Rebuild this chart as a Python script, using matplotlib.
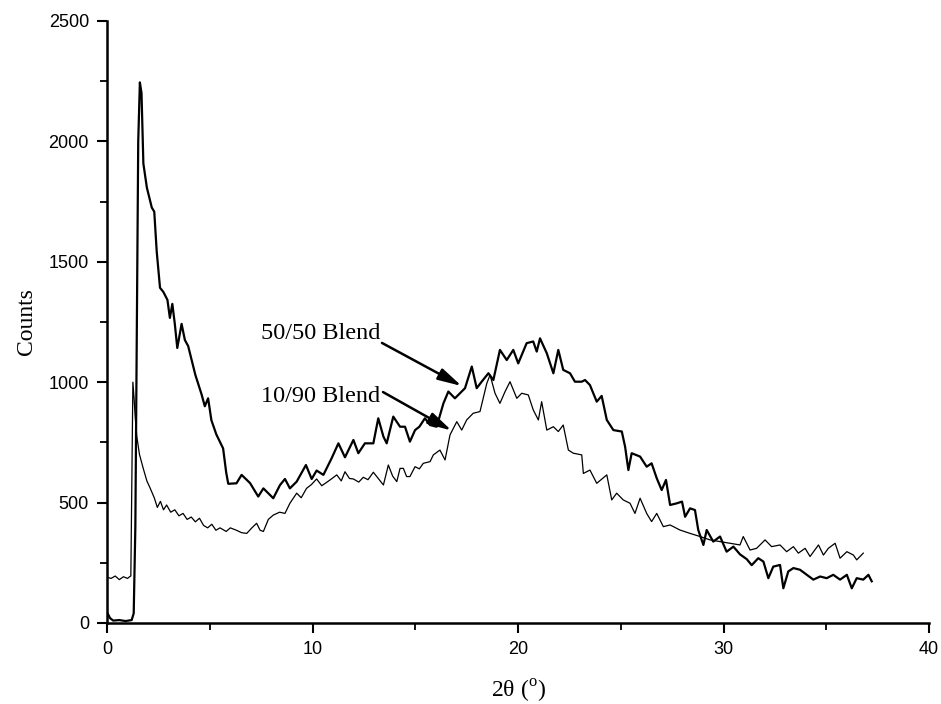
import numpy as np
import matplotlib
matplotlib.use("Agg")
import matplotlib.pyplot as plt
from matplotlib.ticker import MultipleLocator

# 50/50 blend (thick trace)
x_5050 = [0, 0.15, 0.3, 0.6, 0.9, 1.2, 1.3, 1.38, 1.45, 1.52, 1.6, 1.68, 1.77, 1.94,
          2.18, 2.3, 2.42, 2.58, 2.74, 2.94, 3.06, 3.18, 3.3, 3.42, 3.63, 3.79, 3.95,
          4.3, 4.6, 4.76, 4.92, 5.08, 5.32, 5.65, 5.8, 5.9, 6.3, 6.55, 6.96, 7.36,
          7.61, 8.09, 8.42, 8.66, 8.9, 9.23, 9.68, 9.96, 10.2, 10.53, 10.93, 11.26,
          11.58, 11.99, 12.23, 12.55, 12.96, 13.2, 13.45, 13.61, 13.93, 14.26, 14.5,
          14.74, 14.99, 15.2, 15.47, 15.72, 16.04, 16.37, 16.61, 16.93, 17.42, 17.75,
          17.99, 18.23, 18.56, 18.8, 19.12, 19.45, 19.77, 20.01, 20.42, 20.74, 20.91,
          21.07, 21.4, 21.72, 21.96, 22.2, 22.53, 22.77, 23.1, 23.26, 23.5, 23.83,
          24.07, 24.32, 24.64, 25.05, 25.21, 25.37, 25.53, 25.94, 26.26, 26.5, 26.75,
          26.99, 27.2, 27.4, 27.73, 27.98, 28.13, 28.37, 28.61, 28.77, 29.02, 29.18,
          29.5, 29.83, 30.15, 30.48, 30.8, 31.13, 31.37, 31.69, 31.94, 32.18, 32.42,
          32.75, 32.91, 33.15, 33.4, 33.72, 34.05, 34.37, 34.7, 35.02, 35.34, 35.67,
          36.0, 36.24, 36.48, 36.8, 37.05, 37.21]
y_5050 = [45, 20, 10, 12, 8, 12, 40, 400, 1200, 2000, 2245, 2200, 1908, 1808,
          1725, 1708, 1542, 1392, 1375, 1342, 1267, 1325, 1242, 1142, 1242, 1175, 1150,
          1030, 950, 900, 933, 842, 783, 725, 625, 578, 580, 615, 581, 525,
          559, 518, 573, 598, 559, 587, 656, 598, 633, 615, 684, 746,
          688, 760, 705, 746, 746, 850, 774, 746, 857, 815, 815,
          753, 801, 815, 850, 822, 815, 912, 961, 933, 975, 1065,
          975, 1002, 1037, 1009, 1134, 1092, 1134, 1078, 1162, 1169, 1127,
          1182, 1120, 1037, 1134, 1051, 1037, 1002, 1002, 1009, 988, 919,
          943, 843, 801, 795, 732, 635, 705, 691, 649, 663, 601,
          552, 594, 490, 497, 504, 441, 476, 469, 386, 324, 386,
          338, 359, 296, 317, 285, 265, 240, 269, 255, 186, 234,
          241, 144, 214, 228, 221, 200, 180, 193, 186, 200, 180,
          200, 144, 186, 180, 200, 173]

# 10/90 blend (thin trace)
x_1090 = [0, 0.2, 0.4, 0.6, 0.8, 1.0, 1.1, 1.16, 1.22, 1.26, 1.32, 1.37, 1.45, 1.58,
          1.77, 1.94, 2.1, 2.3, 2.45, 2.6, 2.75, 2.9, 3.1, 3.3, 3.5, 3.7, 3.9, 4.1,
          4.3, 4.5, 4.7, 4.9, 5.1, 5.3, 5.5, 5.8, 6.0, 6.3, 6.55, 6.8, 7.05, 7.28,
          7.45, 7.61, 7.85, 8.09, 8.4, 8.66, 8.9, 9.23, 9.45, 9.71, 9.95, 10.2, 10.45,
          10.69, 10.95, 11.18, 11.4, 11.58, 11.8, 11.99, 12.25, 12.47, 12.7, 12.96,
          13.2, 13.45, 13.69, 13.9, 14.1, 14.26, 14.42, 14.58, 14.74, 14.99, 15.2,
          15.39, 15.72, 15.88, 16.2, 16.45, 16.69, 17.02, 17.26, 17.5, 17.82, 18.15,
          18.48, 18.64, 18.88, 19.12, 19.37, 19.61, 19.94, 20.18, 20.5, 20.74, 20.99,
          21.15, 21.4, 21.72, 21.96, 22.2, 22.45, 22.69, 23.1, 23.18, 23.5, 23.83,
          24.32, 24.56, 24.8, 25.12, 25.45, 25.69, 25.94, 26.26, 26.5, 26.75, 27.07,
          27.4, 27.88, 28.37, 28.86, 29.34, 29.83, 30.32, 30.8, 30.96, 31.29, 31.61,
          32.02, 32.34, 32.75, 33.07, 33.4, 33.64, 33.97, 34.21, 34.62, 34.86, 35.1,
          35.43, 35.67, 36.0, 36.32, 36.48, 36.8]
y_1090 = [190, 185, 195, 180, 192, 185, 192, 195, 700, 1000, 930, 858, 775, 700,
          640, 590, 560, 520, 480, 505, 470, 490, 460, 470, 445, 455, 430, 440,
          420, 435, 405, 395, 410, 385, 395, 380, 395, 385, 375, 372, 395, 414,
          385, 380, 430, 448, 460, 455, 497, 539, 520, 559, 575, 598, 570,
          584, 600, 615, 590, 628, 600, 598, 585, 605, 595, 626,
          600, 573, 656, 610, 587, 642, 642, 608, 608, 649, 640,
          663, 670, 698, 718, 677, 781, 836, 801, 843, 871, 878,
          995, 1030, 954, 912, 961, 1002, 933, 954, 947, 885, 843,
          919, 801, 815, 795, 822, 718, 705, 698, 621, 635, 580,
          615, 511, 539, 511, 497, 455, 518, 455, 421, 455, 400,
          407, 386, 372, 359, 345, 338, 331, 324, 359, 303, 310,
          345, 317, 324, 296, 317, 290, 310, 276, 324, 282, 310,
          331, 269, 296, 282, 262, 290]

# annotation labels: text position, arrow tail, arrow tip (data coords)
labels = ["50/50 Blend", "10/90 Blend"]
label_pos = [(13.28, 1204), (13.3, 939)]
arrow_tail = [(13.38, 1163), (13.43, 959)]
arrow_tip = [(17.26, 984), (16.77, 799)]

plt.rcParams["font.family"] = ["Liberation Sans Narrow", "Liberation Sans", "DejaVu Sans"]
plt.rcParams["mathtext.fontset"] = "custom"
plt.rcParams["mathtext.rm"] = "Liberation Serif"
serif = ["Liberation Serif", "DejaVu Serif"]

fig = plt.figure(figsize=(9.41, 7.04), dpi=100)
ax = fig.add_axes([0.1137, 0.1151, 0.8736, 0.8551])

ax.plot(x_5050, y_5050, color="black", lw=1.6)
ax.plot(x_1090, y_1090, color="black", lw=0.9)

ax.set_xlim(0, 40)
ax.set_ylim(0, 2500)
ax.xaxis.set_major_locator(MultipleLocator(10))
ax.xaxis.set_minor_locator(MultipleLocator(5))
ax.yaxis.set_major_locator(MultipleLocator(500))
ax.yaxis.set_minor_locator(MultipleLocator(250))

for s in ["top", "right"]:
    ax.spines[s].set_visible(False)
for s in ["left", "bottom"]:
    ax.spines[s].set_linewidth(1.8)
ax.tick_params(which="major", direction="out", length=7, width=1.5, labelsize=13, pad=6)
ax.tick_params(which="minor", direction="out", length=5, width=1.3)

ax.set_ylabel("Counts", family=serif, fontsize=17, labelpad=8)
ax.set_xlabel(r"2θ ($^{\mathrm{o}}$)", family=serif, fontsize=17, labelpad=14)

for txt, tp, tail, tip in zip(labels, label_pos, arrow_tail, arrow_tip):
    ax.text(tp[0], tp[1], txt, family=serif, fontsize=17.5, ha="right", va="center")
    ax.annotate("", xy=tip, xytext=tail,
                arrowprops=dict(arrowstyle="-|>,head_length=1.1,head_width=0.28",
                                color="black", lw=1.8, mutation_scale=13,
                                shrinkA=0, shrinkB=0))

fig.savefig("out.png", dpi=100)
